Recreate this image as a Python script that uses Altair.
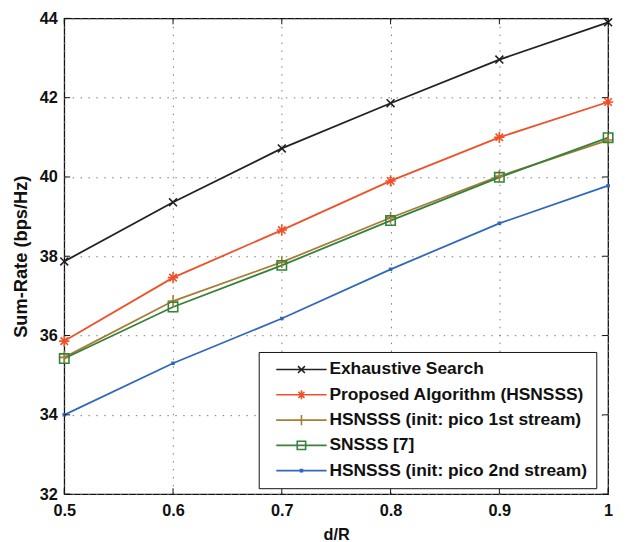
import altair as alt
import pandas as pd

x_vals = [0.5, 0.6, 0.7, 0.8, 0.9, 1.0]
series_names = [
    "Exhaustive Search",
    "Proposed Algorithm (HSNSSS)",
    "HSNSSS (init: pico 1st stream)",
    "SNSSS [7]",
    "HSNSSS (init: pico 2nd stream)",
]
exhaustive = [37.87, 39.36, 40.72, 41.86, 42.96, 43.90]
proposed = [35.86, 37.46, 38.66, 39.90, 41.00, 41.89]
pico1 = [35.45, 36.87, 37.85, 38.97, 40.02, 40.93]
snsss = [35.42, 36.72, 37.77, 38.90, 39.99, 40.99]
pico2 = [34.00, 35.30, 36.43, 37.67, 38.83, 39.78]
x_ticks = [0.5, 0.6, 0.7, 0.8, 0.9, 1.0]
y_ticks = [32, 34, 36, 38, 40, 42, 44]

colors = ["#222222", "#f05028", "#a67c36", "#36823a", "#3068be"]


def f(v):
    return f"{v:.3f}"


def x_path(r, cx=0.0):
    return f"M{f(cx-r)},{f(-r)}L{f(cx+r)},{f(r)}M{f(cx-r)},{f(r)}L{f(cx+r)},{f(-r)}"


def plus_path(r, cx=0.0, horiz=True):
    h = f"M{f(cx-r)},0L{f(cx+r)},0" if horiz else ""
    return h + f"M{f(cx)},{f(-r*1.08)}L{f(cx)},{f(r*1.08)}"


def star_path(r, cx=0.0):
    d = r * 0.72
    return plus_path(r, cx) + f"M{f(cx-d)},{f(-d)}L{f(cx+d)},{f(d)}M{f(cx-d)},{f(d)}L{f(cx+d)},{f(-d)}"


def square_path(r, cx=0.0):
    return f"M{f(cx-r)},{f(-r)}L{f(cx+r)},{f(-r)}L{f(cx+r)},{f(r)}L{f(cx-r)},{f(r)}Z"


# plot marker paths (symbol size 100 -> 1 unit = 5 px)
plot_shapes = [x_path(0.8), star_path(1.05), plus_path(1.1), square_path(0.95), square_path(0.2)]

# legend symbols: line segment + marker
mc = 5.1
line_seg = "M0,0L10.2,0"
legend_shapes = [
    line_seg + x_path(0.7, mc),
    line_seg + star_path(0.85, mc),
    line_seg + plus_path(0.95, mc, horiz=False),
    line_seg + square_path(0.85, mc),
    line_seg + square_path(0.2, mc),
]

rows = []
for name, vals in zip(series_names, [exhaustive, proposed, pico1, snsss, pico2]):
    for xv, yv in zip(x_vals, vals):
        rows.append({"x": xv, "y": yv, "series": name})
df = pd.DataFrame(rows)
xt_df = pd.DataFrame({"x": x_ticks})
yt_df = pd.DataFrame({"y": y_ticks})

W, H = 551, 482
FONT = "Liberation Sans"
TICK = 6

xscale = alt.Scale(domain=[0.5, 1.0], nice=False, zero=False)
yscale = alt.Scale(domain=[32, 44], nice=False, zero=False)

base = alt.Chart(df)

x_main = alt.X("x:Q", scale=xscale, axis=alt.Axis(
    values=x_ticks, labelExpr="datum.value == 1 ? '1' : format(datum.value, '.1f')",
    title="d/R", ticks=False, domain=False, grid=True, gridColor="#7a7a7a",
    gridDash=[1.5, 6.5], gridWidth=1, labelPadding=9, titlePadding=7,
    labelFont=FONT, labelFontSize=16.5, labelFontWeight="bold", labelColor="#111",
    titleFont=FONT, titleFontSize=16.5, titleFontWeight="bold", titleColor="#111",
    labelFlush=False))
y_main = alt.Y("y:Q", scale=yscale, axis=alt.Axis(
    values=y_ticks, format="d", title="Sum-Rate (bps/Hz)", ticks=False, domain=False,
    grid=True, gridColor="#7a7a7a", gridDash=[1.5, 6.5], gridWidth=1, labelPadding=7,
    titlePadding=9, labelFont=FONT, labelFontSize=16.5, labelFontWeight="bold",
    labelColor="#111", titleFont=FONT, titleFontSize=18.5, titleFontWeight="bold",
    titleColor="#111", labelFlush=False))

x_plain = alt.X("x:Q", scale=xscale)
y_plain = alt.Y("y:Q", scale=yscale)

line_layers = []
point_layers = []
for i, (name, shp, col) in enumerate(zip(series_names, plot_shapes, colors)):
    sub = base.transform_filter(alt.datum.series == name)
    ln = sub.mark_line(strokeWidth=1.8, color=col).encode(
        x=x_main if i == 0 else x_plain,
        y=y_main if i == 0 else y_plain,
        order=alt.Order("x:Q"),
    )
    pt = sub.mark_point(shape=shp, filled=False, size=100, strokeWidth=1.6,
                        opacity=1, color=col).encode(x=x_plain, y=y_plain)
    line_layers.append(ln)
    point_layers.append(pt)

# inward axis ticks (MATLAB style box)
tick_style = dict(color="#111", strokeWidth=1)
ticks_bottom = alt.Chart(xt_df).mark_rule(**tick_style).encode(x=x_plain, y=alt.value(H), y2=alt.value(H - TICK))
ticks_top = alt.Chart(xt_df).mark_rule(**tick_style).encode(x=x_plain, y=alt.value(0), y2=alt.value(TICK))
ticks_left = alt.Chart(yt_df).mark_rule(**tick_style).encode(y=y_plain, x=alt.value(0), x2=alt.value(TICK))
ticks_right = alt.Chart(yt_df).mark_rule(**tick_style).encode(y=y_plain, x=alt.value(W), x2=alt.value(W - TICK))

leg_props = dict(
    title=None, orient="none", legendX=197, legendY=338,
    fillColor="white", strokeColor="#111", padding=9,
    symbolSize=100, symbolStrokeWidth=1.6, labelOffset=45,
    rowPadding=6.6, labelFont=FONT, labelFontSize=17.6, labelFontWeight="bold",
    labelColor="#111", labelLimit=500, symbolOpacity=1,
)
legend_layer = base.mark_point(
    filled=False, size=100, strokeWidth=1.6, opacity=0
).encode(
    x=x_plain, y=y_plain,
    stroke=alt.Stroke("series:N", scale=alt.Scale(domain=series_names, range=colors),
                      legend=alt.Legend(**leg_props)),
    shape=alt.Shape("series:N", scale=alt.Scale(domain=series_names, range=legend_shapes),
                    legend=alt.Legend(**leg_props)),
)

chart = alt.layer(
    *line_layers, *point_layers, ticks_bottom, ticks_top, ticks_left, ticks_right, legend_layer
).properties(
    width=W, height=H,
    autosize=alt.AutoSizeParams(type="none"),
    padding={"left": 57, "top": 7, "right": 9, "bottom": 45},
).configure_view(
    stroke="#111", strokeWidth=1.3
)

chart.save("out.html", embed_options={"renderer": "svg", "actions": False})
